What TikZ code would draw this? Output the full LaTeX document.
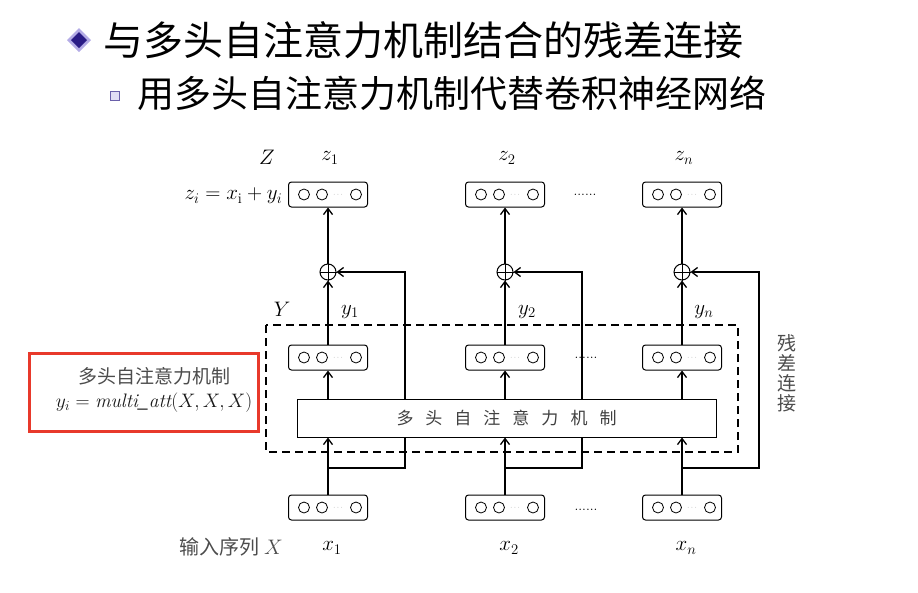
\RequirePackage{fix-cm}
\documentclass[tikz,border=0pt]{standalone}
\usepackage{fontspec}
\newfontfamily\cjk{Noto Sans CJK SC}
\usetikzlibrary{arrows.meta}

\definecolor{noteRed}{HTML}{E8392B}
\definecolor{bulletIn}{HTML}{2A1C86}
\definecolor{bulletOut}{HTML}{B4ACE6}

% three cells and a gap inside a vector box
\newcommand\cells[1]{%
  \foreach \d in {-24,-6,28} \draw[line width=0.8pt] ([xshift=\d pt]#1.center) circle (5.5pt);
  \node[font=\fontsize{7}{7}\selectfont, text=black!45] at ([xshift=10pt]#1.center) {$\cdots$};}
\newcommand\gap{\hspace{12pt}}

\begin{document}
\begin{tikzpicture}[
  x=1pt, y=-1pt,
  >={Straight Barb[length=6pt,width=9pt]},
  line width=1.3pt,
  vb/.style={draw, fill=white, rounded corners=3pt, minimum width=79pt, minimum height=25pt, inner sep=0pt, line width=1pt},
  pl/.style={draw, circle, minimum size=16pt, inner sep=0pt, line width=1pt},
  lb/.style={font=\fontsize{21}{23}\selectfont, inner sep=0pt},
  cn/.style={font=\cjk\fontsize{19}{20}\selectfont, text=black!70, inner sep=0pt},
  dots/.style={font=\fontsize{14}{14}\selectfont, anchor=base}
]
  \useasboundingbox (0,0) rectangle (918,592);

  % heading
  \fill[bulletOut] (79,28) -- (91,40) -- (79,52) -- (67,40) -- cycle;
  \fill[bulletIn]  (79,32) -- (87,40) -- (79,48) -- (71,40) -- cycle;
  \node[anchor=west, inner sep=0pt, font=\cjk\fontsize{40}{44}\selectfont] (h1) at (103,40) {与多头自注意力机制结合的残差连接};
  \draw[line width=0.8pt, draw=bulletIn!70, fill=bulletOut!40] (110,91) rectangle (119,100);
  \node[anchor=west, inner sep=0pt, font=\cjk\fontsize{37}{40}\selectfont] (h2) at (137,93) {用多头自注意力机制代替卷积神经网络};

  % Y frame
  \draw[dashed, dash pattern=on 8pt off 5pt, line width=1.2pt] (266,325) rectangle (738,452);

  \foreach \c/\xx in {1/328,2/505,n/682} {
    \node[vb] (z\c) at (\xx,194.5) {}; \cells{z\c}
    \node[vb] (y\c) at (\xx,357.5) {}; \cells{y\c}
    \node[vb] (x\c) at (\xx,507.5) {}; \cells{x\c}
    \node[pl] (p\c) at (\xx,272) {};
    \draw[line width=1pt] (p\c.north) -- (p\c.south) (p\c.west) -- (p\c.east);
    \coordinate (s\c) at (\xx,468);
    \node[lb] at (\xx+2,158) {$z_\c$};
    \node[lb] at (\xx+22,312) {$y_\c$};
    \node[lb] at (\xx+4,548) {$x_\c$};
  }

  % residual paths
  \foreach \c in {1,2,n}
    \draw[->] (s\c) -- ++(77,0) |- (p\c.east);

  \node[draw, fill=white, minimum width=419pt, minimum height=38pt, line width=1pt,
        font=\cjk\fontsize{17}{17}\selectfont, text=black!75] (att) at (506.5,418)
    {多\gap 头\gap 自\gap 注\gap 意\gap 力\gap 机\gap 制};

  \foreach \c in {1,2,n} {
    \draw[->] (x\c.north) -- (x\c.north |- att.south);
    \draw[->] (y\c.south |- att.north) -- (y\c.south);
    \draw[->] (y\c.north) -- (p\c.south);
    \draw[->] (p\c.north) -- (z\c.south);
  }

  \node[dots] (d1) at (585,195) {......};
  \node[dots] (d2) at (586,358) {......};
  \node[dots] (d3) at (586,510) {......};

  \node[lb] (zz) at (267,157) {$Z$};
  \node[lb, anchor=east] (zeq) at (283,196) {$z_i = x_{\mathrm{i}} + y_i$};
  \node[lb] (yy) at (282,309) {$Y$};
  \node[cn, anchor=west, font=\cjk\fontsize{20}{20}\selectfont] (inp) at (179,547) {输入序列~{\fontsize{21}{21}\selectfont$X$}};
  \node[cn, align=center] (res) at (787,373) {残\\差\\连\\接};

  % note
  \node[draw=noteRed, line width=3pt, minimum width=229pt, minimum height=78pt] (note) at (143.5,392) {};
  \node[cn, align=center, font=\cjk\fontsize{19}{24}\selectfont] (nt) at (154,390)
    {多头自注意力机制\\{\fontsize{19.5}{24}\selectfont\color{black!90}$y_i = \mathit{multi\_att}(X,X,X)$}};
\end{tikzpicture}
\end{document}
